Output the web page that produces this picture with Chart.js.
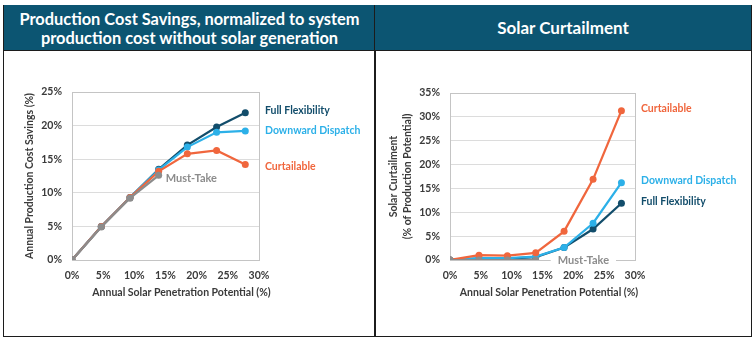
<!DOCTYPE html>
<html>
<head>
<meta charset="utf-8">
<script src="https://cdn.jsdelivr.net/npm/chart.js@4.4.1/dist/chart.umd.min.js"></script>
<style>
  body { margin: 0; width: 756px; height: 342px; background: #fff; position: relative; overflow: hidden; font-family: Lato, "Open Sans", sans-serif; }
  .panel { position: absolute; top: 5px; height: 332px; box-sizing: border-box; border: 1.5px solid #1c1c1c; border-top: none; }
  #p1 { left: 3px; width: 373px; }
  #p2 { left: 374px; width: 378px; }
  .head { height: 45px; background: #0c5572; border-bottom: 1.5px solid #1c1c1c; color: #fff; font-weight: bold; font-size: 17px; line-height: 19px; display: flex; align-items: center; justify-content: center; text-align: center; }
  #p1 .head { font-size: 16.4px; }
  canvas { position: absolute; }
  #cSavings { left: 4px; top: 51px; }
  #cCurtail { left: 375px; top: 51px; }
</style>
</head>
<body>
<div class="panel" id="p1"><div class="head">Production Cost Savings, normalized to system<br>production cost without solar generation</div></div>
<div class="panel" id="p2"><div class="head">Solar Curtailment</div></div>
<canvas id="cSavings" width="370" height="284"></canvas>
<canvas id="cCurtail" width="376" height="284"></canvas>
<script>
// penetration levels (%) shared by both panels
const penetration = [0, 4.7, 9.3, 13.9, 18.5, 23.2, 27.8];
const xTicks = [0, 5, 10, 15, 20, 25, 30];

// production cost savings (%)
const savingsFull = [0, 5.0, 9.3, 13.5, 17.1, 19.8, 21.9];
const savingsDown = [0, 5.0, 9.3, 13.4, 16.8, 19.0, 19.2];
const savingsCurt = [0, 5.0, 9.3, 13.2, 15.8, 16.3, 14.2];
const savingsMust = [0, 4.9, 9.2, 12.6];

// solar curtailment (% of production potential)
const curtailFull = [0, 0.3, 0.3, 0.6, 2.6, 6.5, 11.9];
const curtailDown = [0, 0.4, 0.4, 0.7, 2.6, 7.7, 16.2];
const curtailCurt = [0, 1.0, 0.9, 1.5, 6.0, 16.9, 31.3];
const curtailMust = [0, 0, 0, 0];

const C_FULL = '#124d6b';
const C_DOWN = '#2cb0e8';
const C_CURT = '#f0663d';
const C_MUST = '#8c8c8c';
const TXT = '#3a3a3a';
const FONT = 'Lato, "Open Sans", sans-serif';
const AXIS_FONT = { family: FONT, size: 10.5, weight: 'bold' };

function pts(ys) {
    return ys.map((y, i) => ({ x: penetration[i], y: y }));
}

function line(label, ys, color) {
    return {
        label: label,
        data: pts(ys),
        borderColor: color,
        backgroundColor: color,
        borderWidth: 2.25,
        pointRadius: 3.5,
        pointHoverRadius: 3.5,
        pointBorderWidth: 0,
        tension: 0
    };
}

// light grey box round the plot area
const plotBox = {
    id: 'plotBox',
    beforeDatasetsDraw(chart) {
        const a = chart.chartArea;
        const ctx = chart.ctx;
        ctx.save();
        ctx.strokeStyle = '#c4c4c4';
        ctx.lineWidth = 1;
        ctx.strokeRect(Math.round(a.left) + 0.5, Math.round(a.top) + 0.5, Math.round(a.right - a.left), Math.round(a.bottom - a.top));
        ctx.restore();
    }
};

// series names next to the lines, plus the x axis title
const seriesLabels = {
    id: 'seriesLabels',
    afterDatasetsDraw(chart, args, opts) {
        const ctx = chart.ctx;
        const a = chart.chartArea;
        const xs = chart.scales.x, ys = chart.scales.y;
        ctx.save();
        ctx.textBaseline = 'middle';
        ctx.textAlign = 'center';
        ctx.font = 'bold 10.5px ' + FONT;
        ctx.fillStyle = TXT;
        ctx.fillText('Annual Solar Penetration Potential (%)', (a.left + a.right) / 2 + opts.titleShift, a.bottom + 33);

        ctx.textAlign = 'left';
        opts.items.forEach(it => {
            const ds = chart.data.datasets[it.ds].data;
            const last = ds[ds.length - 1];
            let x = it.atEnd ? a.right + 6 : xs.getPixelForValue(last.x) + it.dx;
            let y = ys.getPixelForValue(last.y) + it.dy;
            ctx.font = 'bold ' + (it.size || 10.5) + 'px ' + FONT;
            if (it.bg) {
                const w = ctx.measureText(it.text).width;
                ctx.fillStyle = '#fff';
                ctx.fillRect(x - 7, y - 6, w + 14, 12);
            }
            ctx.fillStyle = it.color;
            ctx.fillText(it.text, x, y);
        });
        ctx.restore();
    }
};

function makeChart(id, sets, yMax, yTitle, pad, yWidth, titleShift, labels) {
    return new Chart(document.getElementById(id), {
        type: 'line',
        data: { datasets: sets },
        plugins: [plotBox, seriesLabels],
        options: {
            responsive: false,
            animation: false,
            events: [],
            layout: { padding: pad },
            plugins: {
                legend: { display: false },
                tooltip: { enabled: false },
                seriesLabels: { items: labels, titleShift: titleShift }
            },
            scales: {
                x: {
                    type: 'linear',
                    min: 0, max: 30,
                    afterBuildTicks: s => { s.ticks = xTicks.map(v => ({ value: v })); },
                    afterFit: s => { s.height = 43; },
                    grid: { display: false },
                    border: { display: false },
                    ticks: {
                        padding: 1,
                        color: TXT,
                        font: AXIS_FONT,
                        callback: v => v + '%'
                    }
                },
                y: {
                    min: 0, max: yMax,
                    afterFit: s => { s.width = yWidth; },
                    grid: { color: '#dcdcdc', drawTicks: false, lineWidth: 1 },
                    border: { display: false },
                    ticks: {
                        stepSize: 5,
                        padding: 10,
                        color: TXT,
                        font: AXIS_FONT,
                        callback: v => v + '%'
                    },
                    title: {
                        display: true,
                        text: yTitle,
                        color: TXT,
                        font: { family: FONT, size: 10.5, weight: 'bold', lineHeight: 1.4 },
                        padding: { top: 4, bottom: 4 }
                    }
                }
            }
        }
    });
}

// earlier datasets are drawn on top
makeChart('cSavings', [
    line('Must-Take', savingsMust, C_MUST),
    line('Curtailable', savingsCurt, C_CURT),
    line('Downward Dispatch', savingsDown, C_DOWN),
    line('Full Flexibility', savingsFull, C_FULL)
], 25, 'Annual Production Cost Savings (%)',
   { left: 14, right: 115, top: 41, bottom: 32 }, 54, 16, [
    { ds: 3, text: 'Full Flexibility', color: C_FULL, atEnd: true, dy: -2 },
    { ds: 2, text: 'Downward Dispatch', color: C_DOWN, atEnd: true, dy: 0 },
    { ds: 1, text: 'Curtailable', color: C_CURT, atEnd: true, dy: 2 },
    { ds: 0, text: 'Must-Take', color: C_MUST, dx: 7, dy: 3, size: 11 }
]);

makeChart('cCurtail', [
    line('Must-Take', curtailMust, C_MUST),
    line('Curtailable', curtailCurt, C_CURT),
    line('Downward Dispatch', curtailDown, C_DOWN),
    line('Full Flexibility', curtailFull, C_FULL)
], 35, ['Solar Curtailment', '(% of Production Potential)'],
   { left: 7, right: 116, top: 42, bottom: 32 }, 68, 6.5, [
    { ds: 1, text: 'Curtailable', color: C_CURT, atEnd: true, dy: -2 },
    { ds: 2, text: 'Downward Dispatch', color: C_DOWN, atEnd: true, dy: -2 },
    { ds: 3, text: 'Full Flexibility', color: C_FULL, atEnd: true, dy: -2 },
    { ds: 0, text: 'Must-Take', color: C_MUST, dx: 22, dy: 0, bg: true, size: 11 }
]);
</script>
</body>
</html>
